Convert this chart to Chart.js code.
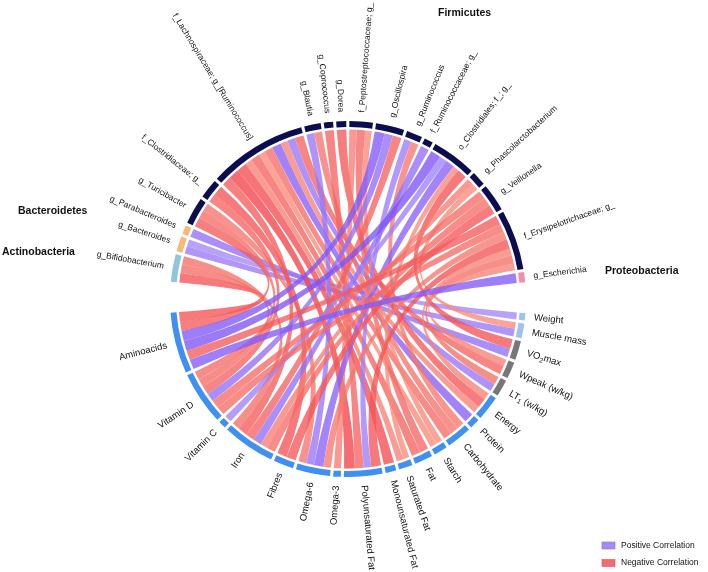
<!DOCTYPE html>
<html>
<head>
<meta charset="utf-8">
<script src="https://cdn.jsdelivr.net/npm/chart.js@4.4.0/dist/chart.umd.min.js"></script>
<style>
  body { margin: 0; background: #fff; }
</style>
</head>
<body>
<canvas id="chartChord" width="708" height="572"></canvas>
<script>
// taxa, clockwise from the left side over the top
const taxa = [
  'g_Bifidobacterium', 'g_Bacteroides', 'g_Parabacteroides', 'g_Turicibacter',
  'f_Clostridiaceae; g_', 'f_Lachnospiraceae; g_[Ruminococcus]', 'g_Blautia',
  'g_Coprococcus', 'g_Dorea', 'f_Peptostreptococcaceae; g_', 'g_Oscillospira',
  'g_Ruminococcus', 'f_Ruminococcaceae; g_', 'o_Clostridiales; f_; g_',
  'g_Phascolarctobacterium', 'g_Veillonella', 'f_Erysipelotrichaceae; g_', 'g_Escherichia'
];
const taxaPhylum = [
  'Actinobacteria', 'Bacteroidetes', 'Bacteroidetes', 'Firmicutes',
  'Firmicutes', 'Firmicutes', 'Firmicutes', 'Firmicutes', 'Firmicutes', 'Firmicutes',
  'Firmicutes', 'Firmicutes', 'Firmicutes', 'Firmicutes', 'Firmicutes', 'Firmicutes',
  'Firmicutes', 'Proteobacteria'
];

// host variables, clockwise from the right side under the bottom ({} = subscript)
const variables = [
  'Weight', 'Muscle mass', 'VO{2}max', 'Wpeak (w/kg)', 'LT{1} (w/kg)', 'Energy',
  'Protein', 'Carbohydrate', 'Starch', 'Fat', 'Saturated Fat', 'Monounsaturated Fat',
  'Polyunsaturated Fat', 'Omega-3', 'Omega-6', 'Fibres', 'Iron', 'Vitamin C',
  'Vitamin D', 'Aminoacids'
];
const varGroup = [
  'body', 'body', 'performance', 'performance', 'performance', 'diet',
  'diet', 'diet', 'diet', 'diet', 'diet', 'diet', 'diet', 'diet', 'diet',
  'diet', 'diet', 'diet', 'diet', 'diet'
];

// correlations (one entry per ribbon)
const linkTaxon = [
  'g_Bifidobacterium', 'g_Bifidobacterium', 'g_Bifidobacterium',
  'g_Bacteroides', 'g_Bacteroides', 'g_Parabacteroides',
  'g_Turicibacter', 'g_Turicibacter', 'g_Turicibacter',
  'f_Clostridiaceae; g_', 'f_Clostridiaceae; g_',
  'f_Lachnospiraceae; g_[Ruminococcus]', 'f_Lachnospiraceae; g_[Ruminococcus]',
  'f_Lachnospiraceae; g_[Ruminococcus]', 'f_Lachnospiraceae; g_[Ruminococcus]',
  'f_Lachnospiraceae; g_[Ruminococcus]', 'f_Lachnospiraceae; g_[Ruminococcus]',
  'f_Lachnospiraceae; g_[Ruminococcus]', 'f_Lachnospiraceae; g_[Ruminococcus]',
  'f_Lachnospiraceae; g_[Ruminococcus]', 'f_Lachnospiraceae; g_[Ruminococcus]',
  'f_Lachnospiraceae; g_[Ruminococcus]',
  'g_Blautia', 'g_Blautia', 'g_Coprococcus', 'g_Dorea',
  'f_Peptostreptococcaceae; g_', 'f_Peptostreptococcaceae; g_', 'f_Peptostreptococcaceae; g_',
  'g_Oscillospira', 'g_Oscillospira', 'g_Oscillospira',
  'g_Ruminococcus', 'g_Ruminococcus', 'f_Ruminococcaceae; g_',
  'o_Clostridiales; f_; g_', 'o_Clostridiales; f_; g_', 'o_Clostridiales; f_; g_',
  'o_Clostridiales; f_; g_', 'o_Clostridiales; f_; g_',
  'g_Phascolarctobacterium', 'g_Phascolarctobacterium',
  'g_Veillonella', 'g_Veillonella', 'g_Veillonella',
  'f_Erysipelotrichaceae; g_', 'f_Erysipelotrichaceae; g_', 'f_Erysipelotrichaceae; g_',
  'f_Erysipelotrichaceae; g_', 'f_Erysipelotrichaceae; g_', 'f_Erysipelotrichaceae; g_',
  'f_Erysipelotrichaceae; g_',
  'g_Escherichia'
];
const linkVar = [
  'Aminoacids', 'Vitamin D', 'Iron',
  'Weight', 'Muscle mass', 'VO{2}max',
  'Aminoacids', 'Vitamin D', 'Omega-6',
  'Vitamin D', 'Fibres',
  'Protein', 'LT{1} (w/kg)', 'Energy', 'Carbohydrate', 'Starch', 'Fat',
  'Saturated Fat', 'Monounsaturated Fat', 'Polyunsaturated Fat', 'Iron', 'Wpeak (w/kg)',
  'Omega-6', 'Carbohydrate', 'Polyunsaturated Fat', 'Energy',
  'Fat', 'Starch', 'Omega-3',
  'Aminoacids', 'Vitamin D', 'Iron',
  'Polyunsaturated Fat', 'Carbohydrate', 'Iron',
  'Vitamin C', 'Omega-6', 'Aminoacids', 'Saturated Fat', 'VO{2}max',
  'Muscle mass', 'Iron',
  'Iron', 'Vitamin D', 'Fibres',
  'Vitamin D', 'Omega-6', 'Polyunsaturated Fat', 'LT{1} (w/kg)', 'Wpeak (w/kg)',
  'Aminoacids', 'Energy',
  'Aminoacids'
];
const linkRho = [
  -0.42, -0.36, -0.35,
  0.29, 0.33, 0.36,
  -0.40, -0.36, -0.34,
  -0.38, -0.42,
  0.41, 0.34, -0.30, -0.36, -0.28, -0.38,
  -0.30, -0.44, -0.46, -0.40, -0.38,
  0.34, -0.34, -0.38, -0.41,
  -0.37, -0.28, -0.31,
  0.43, 0.36, -0.38,
  0.32, -0.33, 0.36,
  0.31, 0.40, 0.44, -0.26, -0.42,
  -0.28, -0.31,
  -0.36, -0.36, -0.41,
  -0.36, -0.33, -0.42, -0.35, -0.30,
  -0.40, -0.30,
  0.42
];

const phylumColor = {
  Actinobacteria: '#8fc6d9',
  Bacteroidetes: '#f6b978',
  Firmicutes: '#0b0d4e',
  Proteobacteria: '#f08eab'
};
const groupColor = { body: '#9fc3ea', performance: '#777777', diet: '#3f90f0' };

const GAP = 1;       // degrees between sectors
const BIG_GAP = 10;  // degrees between taxa and variables

const nodes = taxa.concat(variables);
const totals = nodes.map(() => 0);
linkRho.forEach((rho, k) => {
  totals[nodes.indexOf(linkTaxon[k])] += Math.abs(rho);
  totals[nodes.indexOf(linkVar[k])] += Math.abs(rho);
});
const sumAll = totals.reduce((a, b) => a + b, 0);
const degPerUnit = (360 - GAP * (nodes.length - 2) - 2 * BIG_GAP) / sumAll;

// doughnut data with transparent gap sectors
const ringData = [];
const ringColors = [];
const nodeSlot = [];
nodes.forEach((name, i) => {
  nodeSlot.push(ringData.length);
  ringData.push(totals[i]);
  ringColors.push(i < taxa.length ? phylumColor[taxaPhylum[i]] : groupColor[varGroup[i - taxa.length]]);
  const last = (i === taxa.length - 1) || (i === nodes.length - 1);
  ringData.push((last ? BIG_GAP : GAP) / degPerUnit);
  ringColors.push('rgba(0,0,0,0)');
});

function ribbonColor(rho) {
  const t = Math.min(1, Math.max(0, (Math.abs(rho) - 0.28) / 0.18));
  const lo = rho > 0 ? [166, 138, 250] : [247, 138, 122];
  const hi = rho > 0 ? [122, 78, 246] : [242, 68, 76];
  const c = lo.map((v, j) => Math.round(v + (hi[j] - v) * t));
  return 'rgba(' + c[0] + ',' + c[1] + ',' + c[2] + ',0.78)';
}

function drawText(ctx, text, x, y, angle, alignRight, size) {
  const parts = text.split(/[{}]/);
  ctx.save();
  ctx.translate(x, y);
  ctx.rotate(angle);
  ctx.textAlign = 'left';
  ctx.textBaseline = 'middle';
  const fonts = parts.map((p, i) => (i % 2 ? size * 0.72 : size) + 'px "Liberation Sans", Arial, sans-serif');
  const widths = parts.map((p, i) => { ctx.font = fonts[i]; return ctx.measureText(p).width; });
  let px = alignRight ? -widths.reduce((a, b) => a + b, 0) : 0;
  parts.forEach((p, i) => {
    ctx.font = fonts[i];
    ctx.fillText(p, px, i % 2 ? size * 0.32 : 0);
    px += widths[i];
  });
  ctx.restore();
}

const chordPlugin = {
  id: 'chords',
  afterDatasetsDraw(chart) {
    const ctx = chart.ctx;
    const arcs = chart.getDatasetMeta(0).data;
    const cx = arcs[0].x, cy = arcs[0].y;
    const rOut = arcs[0].outerRadius;
    const r = arcs[0].innerRadius - 2.5;
    const nodeArc = nodeSlot.map(s => arcs[s]);
    const mid = nodeArc.map(a => (a.startAngle + a.endAngle) / 2);

    // place each ribbon end inside its sector
    const ends = linkRho.map(() => ({}));
    nodes.forEach((name, i) => {
      const mine = [];
      linkRho.forEach((rho, k) => {
        if (linkTaxon[k] === name) mine.push({ k, side: 't', other: nodes.indexOf(linkVar[k]) });
        if (linkVar[k] === name) mine.push({ k, side: 'v', other: nodes.indexOf(linkTaxon[k]) });
      });
      const rel = o => (((mid[o] - mid[i]) % (2 * Math.PI)) + 2 * Math.PI) % (2 * Math.PI);
      mine.sort((a, b) => rel(b.other) - rel(a.other));
      const a = nodeArc[i];
      let cur = a.startAngle;
      mine.forEach(m => {
        const w = (a.endAngle - a.startAngle) * Math.abs(linkRho[m.k]) / totals[i];
        ends[m.k][m.side] = [cur, cur + w];
        cur += w;
      });
    });

    ctx.save();
    linkRho.forEach((rho, k) => {
      const [a0, a1] = ends[k].t;
      const [b0, b1] = ends[k].v;
      ctx.beginPath();
      ctx.arc(cx, cy, r, a0, a1);
      ctx.quadraticCurveTo(cx, cy, cx + r * Math.cos(b0), cy + r * Math.sin(b0));
      ctx.arc(cx, cy, r, b0, b1);
      ctx.quadraticCurveTo(cx, cy, cx + r * Math.cos(a0), cy + r * Math.sin(a0));
      ctx.closePath();
      ctx.fillStyle = ribbonColor(rho);
      ctx.fill();
    });
    ctx.restore();

    // sector labels
    ctx.save();
    ctx.fillStyle = '#111';
    nodes.forEach((name, i) => {
      const m = mid[i];
      const lr = rOut + 9;
      const x = cx + lr * Math.cos(m), y = cy + lr * Math.sin(m);
      const right = Math.cos(m) > 0;
      const size = i < taxa.length ? 8.5 : 9.5;
      drawText(ctx, name, x, y, right ? m : m + Math.PI, !right, size);
    });

    // phylum names
    ctx.font = 'bold 10.5px "Liberation Sans", Arial, sans-serif';
    ctx.textBaseline = 'middle';
    ctx.textAlign = 'left';
    ctx.fillText('Firmicutes', 438, 13);
    ctx.fillText('Bacteroidetes', 18, 211);
    ctx.fillText('Actinobacteria', 2, 252);
    ctx.fillText('Proteobacteria', 605, 271);

    // legend
    ctx.font = '8.5px "Liberation Sans", Arial, sans-serif';
    [['Positive Correlation', '#a48cf4', '#8a72dc', 545.5], ['Negative Correlation', '#f06b73', '#d85560', 563]].forEach(([txt, fill, line, ly]) => {
      ctx.fillStyle = fill;
      ctx.fillRect(602, ly - 3.5, 13, 7);
      ctx.strokeStyle = line;
      ctx.lineWidth = 0.6;
      ctx.strokeRect(602, ly - 3.5, 13, 7);
      ctx.fillStyle = '#111';
      ctx.fillText(txt, 621, ly);
    });
    ctx.restore();
  }
};

const ctx1 = document.getElementById('chartChord');

const config1 = {
  type: 'doughnut',
  data: {
    labels: ringData.map((v, i) => i),
    datasets: [{
      data: ringData,
      backgroundColor: ringColors,
      borderWidth: 0,
      hoverOffset: 0
    }]
  },
  options: {
    responsive: false,
    animation: false,
    events: [],
    rotation: -84.4,
    radius: 178,
    cutout: 172,
    layout: { padding: { left: 170, right: 182, top: 121, bottom: 95 } },
    plugins: {
      legend: { display: false },
      tooltip: { enabled: false }
    }
  },
  plugins: [chordPlugin]
};

new Chart(ctx1, config1);
</script>
</body>
</html>
